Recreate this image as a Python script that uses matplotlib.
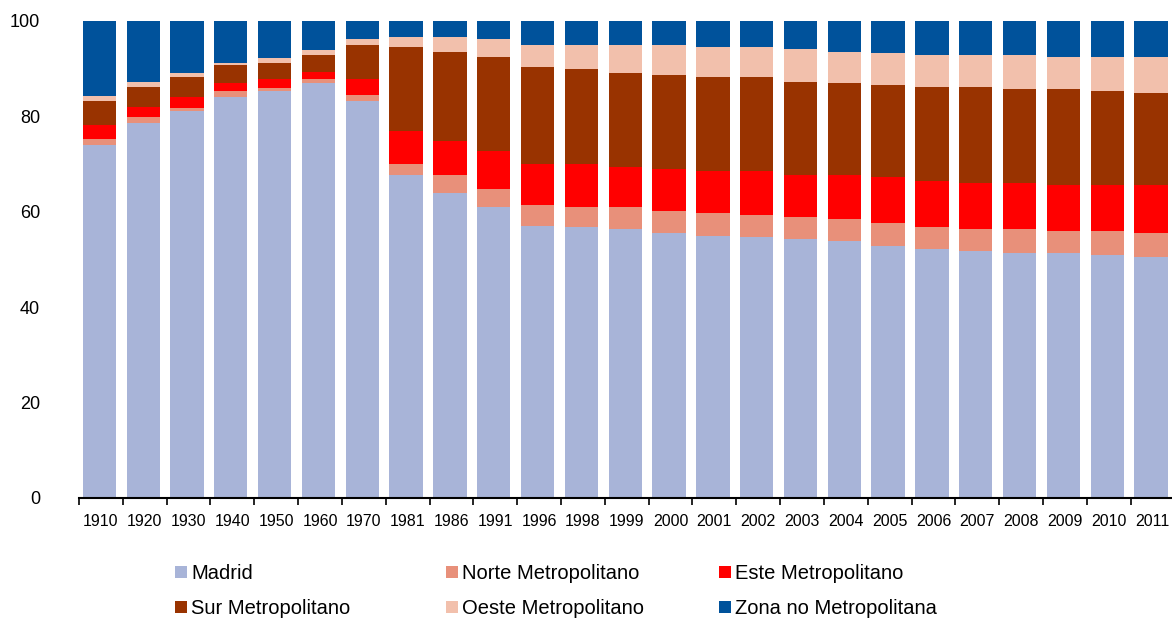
import numpy as np
import matplotlib
matplotlib.use("Agg")
from matplotlib import pyplot as plt
from matplotlib.patches import Patch

# datos: % de poblacion por zona
years = ["1910", "1920", "1930", "1940", "1950", "1960", "1970", "1981", "1986", "1991",
         "1996", "1998", "1999", "2000", "2001", "2002", "2003", "2004", "2005", "2006",
         "2007", "2008", "2009", "2010", "2011"]
madrid = [74.0, 78.5, 81.1, 84.1, 85.3, 86.9, 83.2, 67.6, 63.9, 60.9,
          57.1, 56.7, 56.3, 55.5, 55.0, 54.6, 54.2, 53.8, 52.9, 52.1,
          51.7, 51.3, 51.3, 50.9, 50.4]
norte = [1.2, 1.3, 0.7, 1.2, 0.7, 0.9, 1.2, 2.5, 3.7, 3.8,
         4.2, 4.2, 4.6, 4.6, 4.7, 4.6, 4.6, 4.6, 4.7, 4.6,
         4.6, 5.0, 4.6, 5.0, 5.1]
este = [2.9, 2.1, 2.2, 1.6, 1.8, 1.6, 3.4, 6.8, 7.2, 8.0,
        8.8, 9.2, 8.4, 8.8, 8.8, 9.3, 8.8, 9.2, 9.6, 9.7,
        9.7, 9.7, 9.6, 9.6, 10.0]
sur = [5.1, 4.2, 4.3, 3.9, 3.4, 3.4, 7.2, 17.6, 18.8, 19.7,
       20.2, 19.8, 19.7, 19.7, 19.7, 19.7, 19.7, 19.3, 19.3, 19.7,
       20.1, 19.7, 20.2, 19.8, 19.3]
oeste = [1.1, 1.2, 0.8, 0.4, 1.1, 1.1, 1.2, 2.1, 3.0, 3.8,
         4.6, 5.0, 5.9, 6.3, 6.3, 6.3, 6.8, 6.7, 6.7, 6.7,
         6.7, 7.1, 6.7, 7.1, 7.6]
zona = [15.7, 12.7, 10.9, 8.8, 7.7, 6.1, 3.8, 3.4, 3.4, 3.8,
        5.1, 5.1, 5.1, 5.1, 5.5, 5.5, 5.9, 6.4, 6.8, 7.2,
        7.2, 7.2, 7.6, 7.6, 7.6]

series = [madrid, norte, este, sur, oeste, zona]
names = ["Madrid", "Norte Metropolitano", "Este Metropolitano",
         "Sur Metropolitano", "Oeste Metropolitano", "Zona no Metropolitana"]
colors = ["#A8B4D8", "#E8907A", "#FF0000", "#993300", "#F2C0AC", "#00529B"]

plt.rcParams["font.family"] = ["Liberation Sans", "DejaVu Sans"]

fig = plt.figure(figsize=(11.72, 6.21), dpi=100)
ax = fig.add_axes([79 / 1172, 1 - 497.7 / 621, 1095.5 / 1172, 476.7 / 621])

x = np.arange(len(years))
bottom = np.zeros(len(years))
for vals, col, name in zip(series, colors, names):
    ax.bar(x + 0.085, vals, width=0.76, bottom=bottom, color=col,
           align="edge", label=name, linewidth=0)
    bottom += np.array(vals)

ax.set_xlim(0, len(years))
ax.set_ylim(0, 100)
ax.set_yticks([0, 20, 40, 60, 80, 100])
ax.tick_params(axis="y", length=0, pad=28, labelsize=13)

# ticks en los limites de categoria, etiquetas en el centro
ax.set_xticks(np.arange(len(years) + 1))
ax.set_xticklabels([])
ax.set_xticks(x + 0.5, minor=True)
ax.set_xticklabels(years, minor=True, fontsize=11.5)
ax.tick_params(axis="x", which="major", length=5, width=1.2, direction="out")
ax.tick_params(axis="x", which="minor", length=0, pad=12)

for s in ["top", "right", "left"]:
    ax.spines[s].set_visible(False)
ax.spines["bottom"].set_linewidth(1.5)

# leyenda: 3 columnas, 2 filas
handles = [Patch(facecolor=c, edgecolor="none") for c in colors]
col_x = [175, 446, 719]
for k in range(3):
    fig.legend([handles[k], handles[k + 3]], [names[k], names[k + 3]],
               loc="upper left", bbox_to_anchor=(col_x[k] / 1172, 1 - 564 / 621),
               frameon=False, fontsize=14.5, handlelength=0.6, handleheight=0.6,
               handletextpad=0.2, labelspacing=0.8, borderpad=0, borderaxespad=0)

fig.savefig("out.png", dpi=100)
